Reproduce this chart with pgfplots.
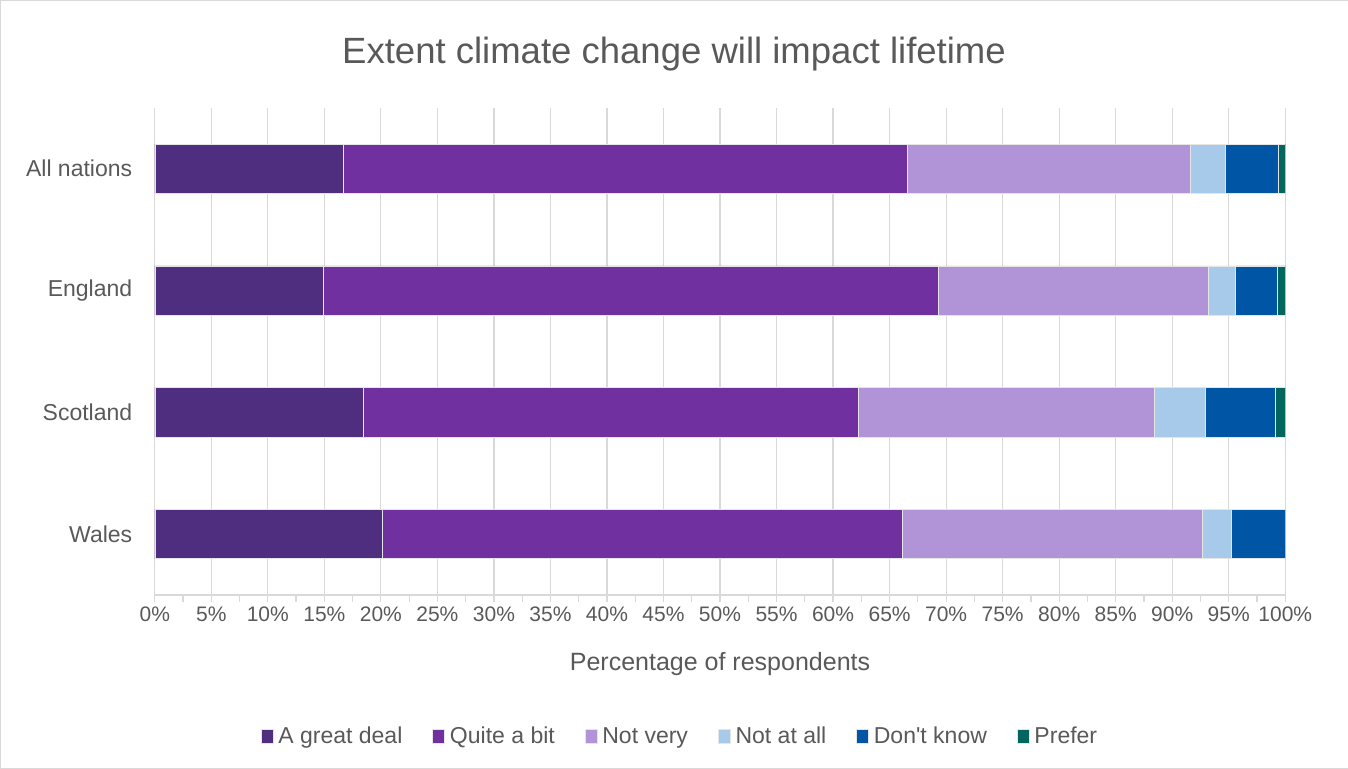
\documentclass[border=0pt]{standalone}
\usepackage{pgfplots}
\pgfplotsset{compat=1.18}
\usepackage{pgfplotstable}
\usepackage{fontspec}
\setmainfont{Liberation Sans}

\definecolor{txt}{HTML}{595959}
\definecolor{gridc}{HTML}{D9D9D9}
\definecolor{cA}{HTML}{4F2D7F}
\definecolor{cB}{HTML}{7030A0}
\definecolor{cC}{HTML}{B194D7}
\definecolor{cD}{HTML}{A7CAEB}
\definecolor{cE}{HTML}{0055A5}
\definecolor{cF}{HTML}{00665E}

% share of respondents (%) per nation
\pgfplotstableread{
pos agd qab nv naa dk pref
3 16.7 49.9 25.0 3.1 4.7 0.6
2 14.9 54.4 23.9 2.4 3.7 0.7
1 18.4 43.8 26.2 4.5 6.2 0.9
0 20.1 46.0 26.6 2.5 4.8 0.0
}\impact

\begin{document}
\begin{tikzpicture}[x=1pt,y=1pt]
\draw[gridc] (0.5,0.5) rectangle (1347.5,768.5);
\node[text=txt, font=\fontsize{36.5}{42}\selectfont] at (674,715) {Extent climate change will impact lifetime};
\begin{axis}[
  at={(155pt,174pt)}, anchor=south west,
  scale only axis, width=1130pt, height=487pt,
  xbar stacked, bar width=49pt,
  xmin=0, xmax=100, ymin=-0.5, ymax=3.5,
  xtick={0,5,...,100}, minor xtick={2.5,7.5,...,97.5},
  xticklabel={\pgfmathprintnumber{\tick}\%},
  /pgf/number format/assume math mode=true,
  ytick={0,1,2,3}, yticklabels={Wales,Scotland,England,All nations},
  yticklabel style={text=txt, font=\fontsize{23}{27}\selectfont, xshift=-12pt},
  xticklabel style={text=txt, font=\fontsize{21}{25}\selectfont, yshift=-1pt},
  xtick pos=bottom, tick align=outside,
  major tick length=7pt, minor tick length=7pt,
  tick style={gridc, line width=1.2pt},
  ytick style={draw=none},
  axis x line*=bottom, axis y line*=left,
  x axis line style={gridc, line width=1.2pt, -},
  y axis line style={draw=none},
  xmajorgrids, major grid style={gridc, line width=1.2pt},
  xlabel={Percentage of respondents},
  xlabel style={text=txt, font=\fontsize{25}{29}\selectfont, at={(axis description cs:0.5,-0.142)}, anchor=center},
  legend columns=6,
  legend style={draw=none, at={(axis description cs:0.4646,-0.2895)}, anchor=center,
    font=\fontsize{23}{27}\selectfont, text=txt,
    /tikz/every odd column/.append style={column sep=3pt},
    /tikz/every even column/.append style={column sep=28pt}},
  legend image code/.code={\fill[#1] (0pt,-7pt) rectangle (12pt,7pt);},
  every axis plot/.append style={draw=white!80!gray, line width=0.5pt},
]
\addplot[fill=cA] table[x=agd,y=pos] {\impact};
\addplot[fill=cB] table[x=qab,y=pos] {\impact};
\addplot[fill=cC] table[x=nv,y=pos] {\impact};
\addplot[fill=cD] table[x=naa,y=pos] {\impact};
\addplot[fill=cE] table[x=dk,y=pos] {\impact};
\addplot[fill=cF] table[x=pref,y=pos] {\impact};
\legend{A great deal,Quite a bit,Not very,Not at all,Don\textquotesingle t know,Prefer}
\end{axis}
\end{tikzpicture}
\end{document}
